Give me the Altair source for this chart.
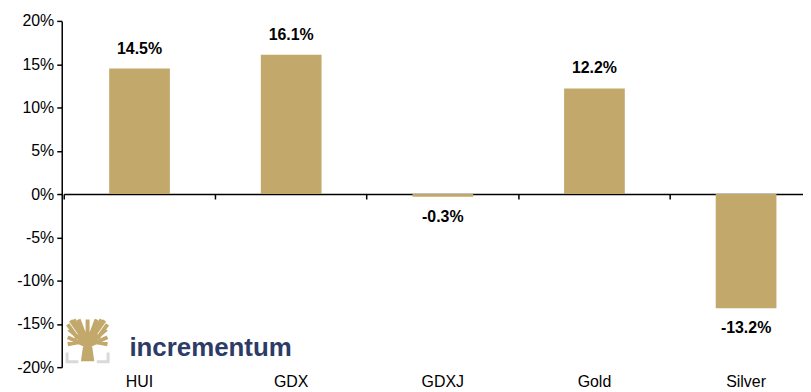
import altair as alt
import pandas as pd

categories = ["HUI", "GDX", "GDXJ", "Gold", "Silver"]
values = [14.5, 16.1, -0.3, 12.2, -13.2]
y_ticks = [-20, -15, -10, -5, 0, 5, 10, 15, 20]

df = pd.DataFrame({"cat": categories, "val": values})
df["label"] = [f"{v:.1f}%" for v in values]

BAR = "#C3A86C"
FONT = "Liberation Sans"
W, H = 745, 348

xscale = alt.Scale(domain=categories, range=[2, 764], paddingInner=0,
                   paddingOuter=0, round=False)
yscale = alt.Scale(domain=[-20, 20])

yaxis = alt.Axis(values=y_ticks, labelExpr="datum.value + '%'", grid=False,
                 domainColor="black", domainWidth=1.5, tickColor="black",
                 tickWidth=1.5, tickSize=5, labelFontSize=16, labelFont=FONT,
                 labelColor="black", labelPadding=3, title=None)

bars = alt.Chart(df).mark_bar(color=BAR, width=61).encode(
    x=alt.X("cat:N", scale=xscale, sort=categories,
            axis=alt.Axis(orient="bottom", domain=False, ticks=False, labelAngle=0,
                          labelFontSize=16, labelFont=FONT, labelColor="black",
                          labelPadding=6, title=None)),
    y=alt.Y("val:Q", scale=yscale, axis=yaxis),
)

zero_axis = alt.Chart(df).mark_text(opacity=0).encode(
    x=alt.X("cat:N", scale=xscale, sort=categories,
            axis=alt.Axis(orient="bottom", offset=-H / 2, labels=False, domain=True,
                          domainColor="black", domainWidth=1.5, ticks=True,
                          tickColor="black", tickWidth=1.5, tickSize=5,
                          bandPosition=0, title=None)),
    y=alt.Y("val:Q", scale=yscale),
    text="label:N",
)

pos_text = alt.Chart(df).transform_filter("datum.val >= 0").mark_text(
    fontWeight="bold", fontSize=16, font=FONT, color="black",
    baseline="alphabetic", dy=-15).encode(
    x=alt.X("cat:N", scale=xscale, sort=categories, axis=None),
    y=alt.Y("val:Q", scale=yscale),
    text="label:N",
)

neg_text = alt.Chart(df).transform_filter("datum.val < 0").mark_text(
    fontWeight="bold", fontSize=16, font=FONT, color="black",
    baseline="top", dy=12).encode(
    x=alt.X("cat:N", scale=xscale, sort=categories, axis=None),
    y=alt.Y("val:Q", scale=yscale),
    text="label:N",
)

logo_df = pd.DataFrame({"name": ["incrementum"]})

brackets = alt.Chart(logo_df).mark_point(
    shape="M-1,0.55 L-1,1 L-0.45,1 M0.45,1 L1,1 L1,0.55",
    filled=False, stroke="#D9D9D9", strokeWidth=3, opacity=1).encode(
    x=alt.value(26), y=alt.value(322), size=alt.value(1700))

tree_path = (
    "M-0.22,1 L-0.1,0.15 L0.1,0.15 L0.22,1 Z "
    "M0,0.35 L-1,-0.1 M0,0.3 L-0.95,-0.5 M0,0.25 L-0.85,-0.95 "
    "M0,0.2 L-0.45,-1 M0,0.2 L0,-1 M0,0.2 L0.45,-1 "
    "M0,0.25 L0.85,-0.95 M0,0.3 L0.95,-0.5 M0,0.35 L1,-0.1 "
    "M-0.5,-0.05 L-1,-0.75 M0.5,-0.05 L1,-0.75 "
    "M-0.3,-0.3 L-0.7,-1 M0.3,-0.3 L0.7,-1 "
    "M-0.2,0.1 L-1,0.25 M0.2,0.1 L1,0.25"
)
tree = alt.Chart(logo_df).mark_point(
    shape=tree_path, filled=True, fill=BAR, stroke=BAR, strokeWidth=4,
    opacity=1).encode(
    x=alt.value(26), y=alt.value(320), size=alt.value(1600))

logo_text = alt.Chart(logo_df).mark_text(
    text="incrementum", fontSize=26, fontWeight="bold", font=FONT,
    color="#2D3B66", align="left", baseline="alphabetic").encode(
    x=alt.value(68), y=alt.value(337))

chart = alt.layer(bars, zero_axis, pos_text, neg_text, brackets, tree, logo_text).resolve_axis(
    x="independent"
).properties(
    width=W, height=H,
    autosize=alt.AutoSizeParams(type="none"),
    padding={"left": 54, "top": 12, "right": 0, "bottom": 24},
).configure_view(stroke=None)

chart.save("out.html", embed_options={"renderer": "svg", "actions": False})
